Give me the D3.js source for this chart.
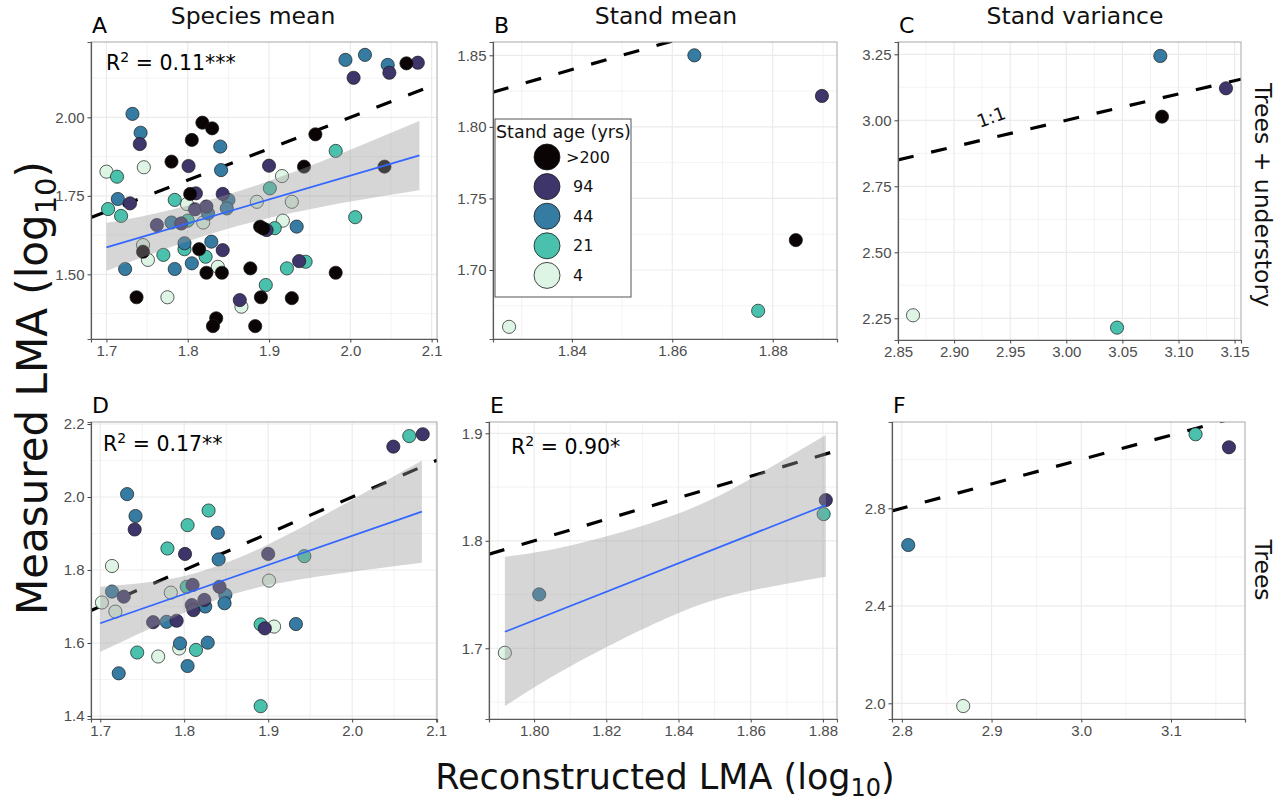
<!DOCTYPE html>
<html>
<head>
<meta charset="utf-8">
<script src="https://cdn.jsdelivr.net/npm/d3@7"></script>
<style>
body { margin: 0; background: #fff; }
text { font-family: "DejaVu Sans", Verdana, sans-serif; }
.tick text { font-family: "Liberation Sans", Arial, sans-serif; }
</style>
</head>
<body>
<svg id="chart" width="1288" height="803"></svg>
<script>
// stand age classes (mako palette)
const ageLabels = [">200", "94", "44", "21", "4"];
const ageColors = ["#0b0405", "#3e356b", "#357ba2", "#49c1ad", "#def5e5"];

// A - species mean, trees + understory (age index into ageLabels)
const aAge = [4,4,4,4,4,4,4,4,4,4,4,4,4,
  3,3,3,3,3,3,3,3,3,3,3,3,3,3,3,
  2,2,2,2,2,2,2,2,2,2,2,2,2,2,2,2,2,2,
  1,1,1,1,1,1,1,1,1,1,1,1,1,1,1,1,1,
  0,0,0,0,0,0,0,0,0,0,0,0,0,0,0,0,0,0,0,0,0,0,0];
const aX = [1.700,1.746,1.916,1.799,1.885,1.928,1.819,1.745,1.751,1.837,1.775,1.866,1.917,
  1.982,1.713,1.702,1.718,1.784,1.901,1.800,1.796,1.770,1.822,1.896,1.907,2.006,1.945,1.922,
  1.994,2.018,2.046,1.732,1.742,1.840,1.841,1.714,1.850,1.848,1.825,1.780,1.796,1.829,1.805,1.723,1.784,1.934,
  2.004,2.048,2.083,1.741,1.801,1.900,1.729,1.810,1.809,1.823,1.843,1.762,1.792,1.843,1.864,1.897,1.937,
  2.069,1.818,1.830,1.805,1.780,1.957,1.943,2.042,1.803,1.745,1.814,1.823,1.842,1.877,1.737,1.835,1.831,1.883,1.889,1.893,1.890,1.928,1.982];
const aY = [1.827,1.841,1.813,1.724,1.731,1.731,1.665,1.593,1.546,1.524,1.427,1.397,1.671,
  1.893,1.811,1.708,1.686,1.737,1.774,1.671,1.580,1.562,1.556,1.466,1.647,1.682,1.540,1.519,
  2.183,2.199,2.167,2.011,1.951,1.907,1.832,1.740,1.737,1.710,1.694,1.665,1.599,1.604,1.535,1.517,1.517,1.652,
  2.126,2.142,2.174,1.915,1.845,1.846,1.726,1.758,1.707,1.716,1.756,1.657,1.662,1.577,1.418,1.641,1.542,
  2.172,1.983,1.965,1.928,1.859,1.946,1.843,1.843,1.756,1.572,1.580,1.505,1.505,1.519,1.427,1.360,1.335,1.335,1.652,1.646,1.427,1.424,1.505];
const aFitX = [1.700, 2.085], aFitY = [1.586, 1.879];
const aBandX = [1.70, 1.76, 1.84, 1.92, 2.00, 2.085];
const aBandLo = [1.511, 1.569, 1.638, 1.691, 1.732, 1.768];
const aBandHi = [1.664, 1.694, 1.747, 1.816, 1.897, 1.988];

// B - stand mean, trees + understory
const bAge = [4, 3, 2, 1, 0];
const bX = [1.8275, 1.8771, 1.8644, 1.8898, 1.8846];
const bY = [1.6603, 1.6715, 1.8500, 1.8216, 1.7209];

// C - stand variance, trees + understory
const cAge = [4, 3, 2, 1, 0];
const cX = [2.8634, 3.0452, 3.0838, 3.1423, 3.0853];
const cY = [2.2614, 2.2146, 3.2437, 3.1212, 3.0139];

// D - species mean, trees
const dAge = [4,4,4,4,4,4,4,4,
  3,3,3,3,3,3,3,3,3,3,
  2,2,2,2,2,2,2,2,2,2,2,2,2,2,
  1,1,1,1,1,1,1,1,1,1,1,1,1,1];
const dX = [1.714,1.702,1.718,1.784,1.794,1.769,1.901,1.907,
  2.068,1.829,1.804,1.780,1.803,1.744,1.814,1.891,1.943,1.891,
  1.732,1.742,1.840,1.841,1.714,1.825,1.849,1.848,1.779,1.795,1.828,1.804,1.722,1.933,
  2.049,2.084,1.741,1.801,1.728,1.810,1.809,1.811,1.824,1.842,1.763,1.791,1.900,1.896];
const dY = [1.811,1.711,1.686,1.738,1.585,1.563,1.771,1.645,
  2.167,1.963,1.923,1.859,1.754,1.574,1.581,1.427,1.838,1.651,
  2.008,1.948,1.902,1.829,1.741,1.700,1.732,1.709,1.658,1.599,1.601,1.537,1.517,1.652,
  2.138,2.172,1.911,1.844,1.727,1.759,1.704,1.690,1.718,1.754,1.657,1.661,1.844,1.640];
const dFitX = [1.700, 2.083], dFitY = [1.654, 1.960];
const dBandX = [1.70, 1.78, 1.84, 1.90, 1.98, 2.083];
const dBandLo = [1.576, 1.662, 1.720, 1.758, 1.789, 1.820];
const dBandHi = [1.754, 1.774, 1.812, 1.870, 1.967, 2.100];

// E - stand mean, trees
const eAge = [4, 2, 3, 1];
const eX = [1.7919, 1.8014, 1.8802, 1.8808];
const eY = [1.6958, 1.7501, 1.8248, 1.8378];
const eFitX = [1.7919, 1.8808], eFitY = [1.7153, 1.8332];
const eBandX = [1.7919, 1.81, 1.8386, 1.86, 1.8808];
const eBandLo = [1.6462, 1.6831, 1.7307, 1.7534, 1.7665];
const eBandHi = [1.7851, 1.7955, 1.8237, 1.8578, 1.8983];

// F - stand variance, trees
const fAge = [4, 2, 3, 1];
const fX = [2.8684, 2.8071, 3.1274, 3.1646];
const fY = [1.9888, 2.6495, 3.1037, 3.0503];

const colTitles = ["Species mean", "Stand mean", "Stand variance"];
const rowTitles = ["Trees + understory", "Trees"];

const panels = [
  { id: "A", x0: 91, x1: 437, y0: 42, y1: 339, xDom: [1.681, 2.1066], yDom: [1.294, 2.240],
    xTicks: [1.7, 1.8, 1.9, 2.0, 2.1], xFmt: ".1f", yTicks: [1.5, 1.75, 2.0], yFmt: ".2f",
    px: aX, py: aY, age: aAge, fit: [aFitX, aFitY], band: [aBandX, aBandLo, aBandHi],
    r2: ["0.11***"], r2pos: [15, 28] },
  { id: "B", x0: 493, x1: 837, y0: 42, y1: 339, xDom: [1.8243, 1.8928], yDom: [1.6518, 1.8593],
    xTicks: [1.84, 1.86, 1.88], xFmt: ".2f", yTicks: [1.70, 1.75, 1.80, 1.85], yFmt: ".2f",
    px: bX, py: bY, age: bAge, legend: true },
  { id: "C", x0: 898, x1: 1241, y0: 42, y1: 340, xDom: [2.85, 3.1557], yDom: [2.1678, 3.2966],
    xTicks: [2.85, 2.90, 2.95, 3.00, 3.05, 3.10, 3.15], xFmt: ".2f", yTicks: [2.25, 2.5, 2.75, 3.0, 3.25], yFmt: ".2f",
    px: cX, py: cY, age: cAge, oneLabel: [2.935, 2.99] },
  { id: "D", x0: 91, x1: 437, y0: 422, y1: 719, xDom: [1.689, 2.101], yDom: [1.3918, 2.2055],
    xTicks: [1.7, 1.8, 1.9, 2.0, 2.1], xFmt: ".1f", yTicks: [1.4, 1.6, 1.8, 2.0, 2.2], yFmt: ".1f",
    px: dX, py: dY, age: dAge, fit: [dFitX, dFitY], band: [dBandX, dBandLo, dBandHi],
    r2: ["0.17**"], r2pos: [12, 29] },
  { id: "E", x0: 489, x1: 837, y0: 422, y1: 719, xDom: [1.7875, 1.8839], yDom: [1.6342, 1.9105],
    xTicks: [1.80, 1.82, 1.84, 1.86, 1.88], xFmt: ".2f", yTicks: [1.7, 1.8, 1.9], yFmt: ".1f",
    px: eX, py: eY, age: eAge, fit: [eFitX, eFitY], band: [eBandX, eBandLo, eBandHi],
    r2: ["0.90*"], r2pos: [22, 32] },
  { id: "F", x0: 892, x1: 1245, y0: 422, y1: 719, xDom: [2.789, 3.1825], yDom: [1.9356, 3.154],
    xTicks: [2.8, 2.9, 3.0, 3.1], xFmt: ".1f", yTicks: [2.0, 2.4, 2.8], yFmt: ".1f",
    px: fX, py: fY, age: fAge }
];

const svg = d3.select("#chart");

function minorTicks(ticks, dom) {
    const step = ticks[1] - ticks[0];
    const out = [];
    for (let v = ticks[0] - step / 2; v <= dom[1]; v += step) {
        if (v >= dom[0]) out.push(v);
    }
    return out;
}

function drawPanel(p) {
    const x = d3.scaleLinear().domain(p.xDom).range([p.x0, p.x1]);
    const y = d3.scaleLinear().domain(p.yDom).range([p.y1, p.y0]);
    const g = svg.append("g");

    svg.append("clipPath").attr("id", "clip" + p.id)
        .append("rect").attr("x", p.x0).attr("y", p.y0)
        .attr("width", p.x1 - p.x0).attr("height", p.y1 - p.y0);

    g.append("rect").attr("x", p.x0).attr("y", p.y0)
        .attr("width", p.x1 - p.x0).attr("height", p.y1 - p.y0).attr("fill", "#fff");

    // grid
    const grid = g.append("g").attr("stroke", "#ebebeb");
    grid.selectAll(".mx").data(minorTicks(p.xTicks, p.xDom)).join("line")
        .attr("x1", d => x(d)).attr("x2", d => x(d)).attr("y1", p.y0).attr("y2", p.y1).attr("stroke-width", 0.6);
    grid.selectAll(".my").data(minorTicks(p.yTicks, p.yDom)).join("line")
        .attr("y1", d => y(d)).attr("y2", d => y(d)).attr("x1", p.x0).attr("x2", p.x1).attr("stroke-width", 0.6);
    grid.selectAll(".gx").data(p.xTicks).join("line")
        .attr("x1", d => x(d)).attr("x2", d => x(d)).attr("y1", p.y0).attr("y2", p.y1).attr("stroke-width", 1.2);
    grid.selectAll(".gy").data(p.yTicks).join("line")
        .attr("y1", d => y(d)).attr("y2", d => y(d)).attr("x1", p.x0).attr("x2", p.x1).attr("stroke-width", 1.2);

    const pg = g.append("g").attr("clip-path", "url(#clip" + p.id + ")");

    // 1:1 line
    pg.append("line")
        .attr("x1", x(p.xDom[0])).attr("y1", y(p.xDom[0]))
        .attr("x2", x(p.xDom[1])).attr("y2", y(p.xDom[1]))
        .attr("stroke", "#000").attr("stroke-width", 3.2)
        .attr("stroke-dasharray", "16,18");

    // points
    const idx = d3.range(p.px.length);
    pg.selectAll("circle.pt").data(idx).join("circle")
        .attr("class", "pt")
        .attr("cx", i => x(p.px[i])).attr("cy", i => y(p.py[i])).attr("r", 6.6)
        .attr("fill", i => ageColors[p.age[i]])
        .attr("stroke", "#1a1a1a").attr("stroke-width", 0.7);

    // smoother
    if (p.band) {
        const [bx, lo, hi] = p.band;
        const area = d3.area().curve(d3.curveNatural)
            .x(i => x(bx[i])).y0(i => y(lo[i])).y1(i => y(hi[i]));
        pg.append("path").datum(d3.range(bx.length))
            .attr("d", area).attr("fill", "#999").attr("fill-opacity", 0.4);
        const line = d3.line().x(i => x(p.fit[0][i])).y(i => y(p.fit[1][i]));
        pg.append("path").datum([0, 1]).attr("d", line)
            .attr("fill", "none").attr("stroke", "#3366ff").attr("stroke-width", 1.7);
    }

    if (p.oneLabel) {
        g.append("text")
            .attr("transform", "translate(" + x(p.oneLabel[0]) + "," + y(p.oneLabel[1]) + ") rotate(-20)")
            .attr("text-anchor", "middle").attr("font-size", 18).attr("fill", "#111")
            .text("1:1");
    }

    // border
    g.append("rect").attr("x", p.x0).attr("y", p.y0)
        .attr("width", p.x1 - p.x0).attr("height", p.y1 - p.y0)
        .attr("fill", "none").attr("stroke", "#a8a8a8").attr("stroke-width", 1);

    // axes
    const ax = g.append("g").attr("transform", "translate(0," + p.y1 + ")")
        .call(d3.axisBottom(x).tickValues(p.xTicks).tickFormat(d3.format(p.xFmt)).tickSize(3.5).tickPadding(3));
    const ay = g.append("g").attr("transform", "translate(" + p.x0 + ",0)")
        .call(d3.axisLeft(y).tickValues(p.yTicks).tickFormat(d3.format(p.yFmt)).tickSize(3.5).tickPadding(3));
    [ax, ay].forEach(a => {
        a.select(".domain").attr("stroke", "#5a5a5a").attr("stroke-width", 1.2);
        a.selectAll(".tick line").attr("stroke", "#444");
        a.selectAll(".tick text").attr("fill", "#4d4d4d").attr("font-size", 15);
    });

    // panel letter
    g.append("text").attr("x", p.x0 + 1).attr("y", p.y0 - 9)
        .attr("font-family", "Liberation Sans, Arial, sans-serif")
        .attr("font-size", 22).attr("fill", "#000").text(p.id);

    if (p.r2) {
        const t = g.append("text").attr("x", p.x0 + p.r2pos[0]).attr("y", p.y0 + p.r2pos[1])
            .attr("font-size", 20.5).attr("fill", "#000");
        t.append("tspan").text("R");
        t.append("tspan").attr("font-size", 14).attr("dy", -8.5).text("2");
        t.append("tspan").attr("dy", 8.5).text(" = " + p.r2[0]);
    }

    if (p.legend) drawLegend();
}

function drawLegend() {
    const lg = svg.append("g").attr("transform", "translate(495,119)");
    lg.append("rect").attr("width", 136).attr("height", 178)
        .attr("fill", "#fff").attr("stroke", "#555").attr("stroke-width", 1);
    lg.append("text").attr("x", 1).attr("y", 19).attr("font-size", 17.5).attr("fill", "#111")
        .text("Stand age (yrs)");
    const items = lg.selectAll("g.item").data(ageLabels).join("g")
        .attr("class", "item")
        .attr("transform", (d, i) => "translate(52," + (38 + i * 29.6) + ")");
    items.append("circle").attr("r", 13)
        .attr("fill", (d, i) => ageColors[i]).attr("stroke", "#1a1a1a").attr("stroke-width", 0.8);
    items.append("text").attr("x", (d, i) => i === 0 ? 19 : 26).attr("y", 5.5)
        .attr("font-family", "Liberation Sans, Arial, sans-serif")
        .attr("font-size", 16).attr("fill", "#111").text(d => d);
}

panels.forEach(drawPanel);

// column titles
const colCenters = [253, 666, 1075];
svg.selectAll("text.col").data(colTitles).join("text")
    .attr("class", "col")
    .attr("x", (d, i) => colCenters[i]).attr("y", 24)
    .attr("text-anchor", "middle").attr("font-size", 23.5).attr("fill", "#111")
    .text(d => d);

// row strips
const rowCenters = [195, 570];
svg.selectAll("text.row").data(rowTitles).join("text")
    .attr("class", "row")
    .attr("transform", (d, i) => "translate(1255," + rowCenters[i] + ") rotate(90)")
    .attr("text-anchor", "middle").attr("font-size", 23.5).attr("fill", "#111")
    .text(d => d);

// axis titles
const yTitle = svg.append("text")
    .attr("transform", "translate(47,388) rotate(-90)")
    .attr("text-anchor", "middle").attr("font-size", 42).attr("fill", "#111");
yTitle.append("tspan").text("Measured LMA (log");
yTitle.append("tspan").attr("font-size", 29).attr("dy", 9).text("10");
yTitle.append("tspan").attr("dy", -9).text(")");

const xTitle = svg.append("text")
    .attr("x", 665).attr("y", 789)
    .attr("text-anchor", "middle").attr("font-size", 35).attr("fill", "#111");
xTitle.append("tspan").text("Reconstructed LMA (log");
xTitle.append("tspan").attr("font-size", 24).attr("dy", 7).text("10");
xTitle.append("tspan").attr("dy", -7).text(")");
</script>
</body>
</html>
